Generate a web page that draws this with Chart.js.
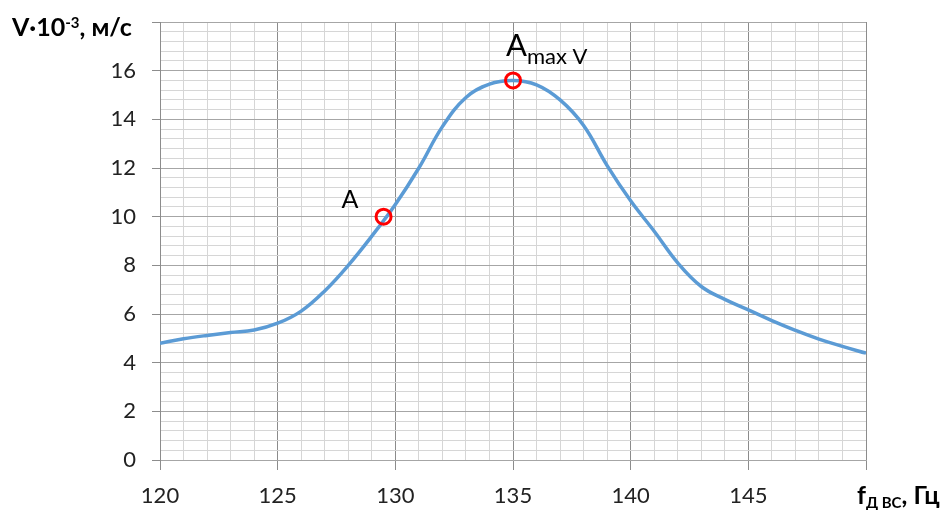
<!DOCTYPE html>
<html>
<head>
<meta charset="utf-8">
<script src="https://cdn.jsdelivr.net/npm/chart.js@4"></script>
<style>
  body { margin: 0; background: #fff; }
</style>
</head>
<body>
<canvas id="myChart" width="947" height="510"></canvas>
<script>
// frequency, Hz
const freq = [120, 121, 122, 123, 124, 125, 126, 127, 128, 129, 130, 131, 132, 133, 134, 135,
  136, 137, 138, 139, 140, 141, 142, 143, 144, 145, 146, 147, 148, 149, 150];
// velocity, x10^-3 m/s
const velocity = [4.8, 4.98, 5.12, 5.24, 5.34, 5.62, 6.12, 6.95, 8.0, 9.2, 10.5, 12.0, 13.7, 14.9, 15.45, 15.6,
  15.42, 14.8, 13.75, 12.1, 10.65, 9.4, 8.1, 7.13, 6.6, 6.17, 5.73, 5.33, 4.97, 4.67, 4.39];

// marked points
const markNames = ['A', 'Amax'];
const markFreq = [129.5, 135];
const markV = [10, 15.6];

const xTicks = [120, 125, 130, 135, 140, 145];
const yTicks = [0, 2, 4, 6, 8, 10, 12, 14, 16];

const FONT = "Lato, 'Noto Sans', sans-serif";

function isMajorY(v) {
  return Math.abs(v / 2 - Math.round(v / 2)) < 1e-6;
}
function isMajorX(v) {
  return Math.abs(v / 5 - Math.round(v / 5)) < 1e-6;
}

const labelsPlugin = {
  id: 'labelsPlugin',
  afterDraw(chart) {
    const ctx = chart.ctx;
    const xs = chart.scales.x;
    const ys = chart.scales.y;
    ctx.save();
    ctx.fillStyle = '#000';
    ctx.textBaseline = 'alphabetic';
    ctx.textAlign = 'left';

    // y axis title
    let x = 12;
    ctx.font = 'bold 25px ' + FONT;
    ctx.fillText('V·10', x, 36);
    x += ctx.measureText('V·10').width;
    ctx.font = 'bold 15px ' + FONT;
    ctx.fillText('-3', x, 28);
    x += ctx.measureText('-3').width;
    ctx.font = 'bold 25px ' + FONT;
    ctx.fillText(', м/с', x, 36);

    // x axis title
    x = 857;
    ctx.font = 'bold 25px ' + FONT;
    ctx.fillText('f', x, 504);
    x += ctx.measureText('f').width;
    ctx.font = 'bold 15px ' + FONT;
    ctx.fillText('Д ВС', x, 508);
    x += ctx.measureText('Д ВС').width;
    ctx.font = 'bold 25px ' + FONT;
    ctx.fillText(', Гц', x, 504);

    // point labels
    const ax = xs.getPixelForValue(markFreq[0]);
    const ay = ys.getPixelForValue(markV[0]);
    ctx.font = '25px ' + FONT;
    ctx.fillText('A', ax - 42, ay - 9);

    const mx = xs.getPixelForValue(markFreq[1]);
    const my = ys.getPixelForValue(markV[1]);
    ctx.font = '31px ' + FONT;
    ctx.fillText('A', mx - 7, my - 24);
    const w = ctx.measureText('A').width;
    ctx.font = '22px ' + FONT;
    ctx.fillText('max V', mx - 7 + w, my - 16);
    ctx.restore();
  }
};

const ctx = document.getElementById('myChart').getContext('2d');

new Chart(ctx, {
  type: 'scatter',
  data: {
    datasets: [
      {
        label: 'points',
        data: markFreq.map((f, i) => ({ x: f, y: markV[i] })),
        showLine: false,
        pointRadius: 7.5,
        pointBorderWidth: 3,
        pointBorderColor: '#ff0000',
        pointBackgroundColor: 'rgba(0,0,0,0)'
      },
      {
        label: 'V',
        data: freq.map((f, i) => ({ x: f, y: velocity[i] })),
        showLine: true,
        borderColor: '#5b9bd5',
        borderWidth: 3.5,
        pointRadius: 0,
        tension: 0.4
      }
    ]
  },
  options: {
    responsive: false,
    animation: false,
    layout: {
      padding: { top: 22, right: 81, left: 0, bottom: 0 }
    },
    plugins: {
      legend: { display: false },
      tooltip: { enabled: false }
    },
    scales: {
      x: {
        type: 'linear',
        min: 120,
        max: 150,
        afterFit(scale) { scale.height = 50; },
        border: { color: '#a6a6a6' },
        grid: {
          tickLength: 10,
          color: c => isMajorX(c.tick.value) ? '#8c8c8c' : '#d6d6d6',
          tickColor: c => isMajorX(c.tick.value) ? '#8c8c8c' : 'rgba(0,0,0,0)'
        },
        ticks: {
          stepSize: 1,
          autoSkip: false,
          maxRotation: 0,
          minRotation: 0,
          padding: 13,
          color: '#222',
          font: { family: FONT, size: 22 },
          callback: v => xTicks.includes(Math.round(v)) && isMajorX(v) ? String(Math.round(v)) : ''
        }
      },
      y: {
        min: 0,
        max: 18,
        afterFit(scale) { scale.width = 160; },
        border: { color: '#8c8c8c' },
        grid: {
          tickLength: 8,
          color: c => isMajorY(c.tick.value) ? '#a6a6a6' : '#d6d6d6',
          tickColor: c => isMajorY(c.tick.value) ? '#8c8c8c' : 'rgba(0,0,0,0)'
        },
        ticks: {
          stepSize: 0.4,
          autoSkip: false,
          padding: 16,
          color: '#222',
          font: { family: FONT, size: 22, lineHeight: 0.5 },
          callback: v => {
            const r = Math.round(v);
            return isMajorY(v) && yTicks.includes(r) ? String(r) : '';
          }
        }
      }
    }
  },
  plugins: [labelsPlugin]
});
</script>
</body>
</html>
